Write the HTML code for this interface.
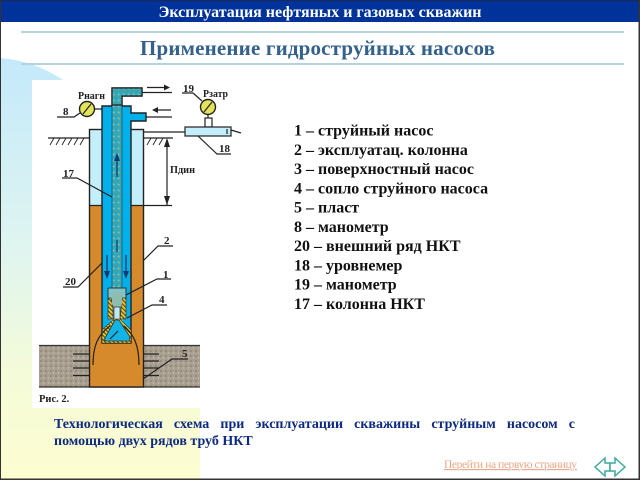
<!DOCTYPE html>
<html><head><meta charset="utf-8"><style>
html,body{margin:0;padding:0;background:#fff}
body{position:relative;width:640px;height:480px;overflow:hidden}
svg{display:block}
text{font-family:"Liberation Serif","Noto Serif CJK SC",serif;font-weight:bold}
.j{position:absolute;left:54px;top:416px;width:521px;font:bold 14px/17px "Liberation Serif","Noto Serif CJK SC",serif;color:#0d2a80}
.j div{white-space:normal}
.j .a{text-align:justify;text-align-last:justify}
</style></head><body>
<svg width="640" height="480" viewBox="0 0 640 480" xmlns="http://www.w3.org/2000/svg">
<defs>
<linearGradient id="bg" x1="0" y1="0" x2="0" y2="1"><stop offset="0" stop-color="#c4e9fb"/><stop offset=".45" stop-color="#dff5f0"/><stop offset=".75" stop-color="#f4fbd8"/><stop offset="1" stop-color="#fdfdd0"/></linearGradient>
<pattern id="soil" width="5" height="5" patternUnits="userSpaceOnUse"><rect width="5" height="5" fill="#a89f90"/><circle cx="1" cy="1" r=".8" fill="#7f776a"/><circle cx="3.5" cy="3" r=".8" fill="#c4bcae"/></pattern>
<pattern id="hatch" width="3" height="3" patternUnits="userSpaceOnUse" patternTransform="rotate(-45)"><rect width="3" height="3" fill="#e6cf3c"/><rect width="1.2" height="3" fill="#5a4a10"/></pattern>
<pattern id="fill" width="5" height="6" patternUnits="userSpaceOnUse"><rect width="5" height="6" fill="#25aec8"/><circle cx="1.5" cy="1.5" r="1.2" fill="#6f9070"/><circle cx="3.7" cy="4.5" r="1" fill="#a9b48a"/></pattern>
</defs>
<rect width="640" height="480" fill="#fff"/>
<path d="M0 58C25 60 45 68 63 80H32V408H200V480H0Z" fill="url(#bg)"/>
<rect x="0" y="0" width="640" height="22" fill="#003399"/>
<rect x="0" y="0" width="640" height="1" fill="#1a2a55"/>
<text x="320" y="17" font-size="16" fill="#fff" text-anchor="middle" textLength="323" lengthAdjust="spacing">Эксплуатация нефтяных и газовых скважин</text>
<rect x="21" y="31" width="603" height="2" fill="#b4d3da"/>
<rect x="21" y="63" width="603" height="2" fill="#b4d3da"/>
<text x="140" y="55" font-size="21" fill="#33618c" textLength="355" lengthAdjust="spacing">Применение гидроструйных насосов</text>

<!-- soil -->
<rect x="39" y="345" width="161" height="42" fill="url(#soil)"/>
<path d="M39 345.500H89M143 345.500H200M39 387H200" stroke="#333" stroke-width="1.200" fill="none"/>
<path d="M73 354H89M73 361H89M73 368H89M73 375.500H89M144 354H159M144 361H159M144 368H159M144 375.500H159" stroke="#222" stroke-width="1.200"/>
<!-- casing -->
<rect x="89.500" y="129.500" width="54" height="76" fill="#c4eefa"/>
<rect x="89.500" y="205.500" width="54" height="181.500" fill="#d68a2c"/>
<rect x="89.500" y="129.500" width="54" height="257.500" fill="none" stroke="#222" stroke-width="1.400"/>
<path d="M89 205.500H172" stroke="#222" stroke-width="1.200"/>
<!-- ground -->
<path d="M48 138H89M143 138H173" stroke="#222" stroke-width="1.200"/>
<path d="M50 145l4-7M56 145l4-7M62 145l4-7M68 145l4-7M74 145l4-7M80 145l4-7M147 145l4-7M153 145l4-7M159 145l4-7" stroke="#222" stroke-width=".9"/>
<!-- tubing -->
<path d="M102 106H112V88H142V96H122V106H131V113H146V121H131V343H102Z" fill="#00b0ea" stroke="#222" stroke-width="1.400"/>
<rect x="112" y="88" width="10" height="200" fill="url(#fill)" stroke="#234" stroke-width=".6"/>
<path d="M112 88H142V96H122V105H112Z" fill="url(#fill)" stroke="#222" stroke-width="1.200"/>
<!-- pump -->
<path d="M108 289H126V318L117 326L108 318Z" fill="#5dc8d8"/>
<path d="M108 288H126V300L122 319H119L122 300V292H112V300L114 319H111L108 300Z" fill="#7fc4c8"/>
<path d="M108 298V319L113 319V307L111 298ZM126 298V319H120L122 298Z" fill="url(#hatch)" stroke="#333" stroke-width=".7"/>
<path d="M108 288H126V300M108 288V300" fill="none" stroke="#333" stroke-width="1"/>
<path d="M112 292H122V304L120 307H114L112 304Z" fill="#8fbcb0"/>
<path d="M114 307H120V320H114Z" fill="#bfe8f0" stroke="#333" stroke-width=".7"/>
<path d="M102 330L114 319H120L131 330V343H102Z" fill="url(#hatch)" stroke="#333" stroke-width=".6"/>
<path d="M104 340L115 320H119L130 337L129 341H106Z" fill="#12b4e6" stroke="#333" stroke-width=".8"/>
<path d="M93 365C93 345 98 335 110 326M139 365C139 345 134 335 124 326" fill="none" stroke="#222" stroke-width="1.200"/>
<!-- flow arrows -->
<path d="M117 177V157" stroke="#123a70" stroke-width="1.300"/><path d="M117 153l-3 8h6z" fill="#123a70"/>
<path d="M117 240V252" stroke="#123a70" stroke-width="1.200"/>
<path d="M107 255V273M126 255V273" stroke="#123a70" stroke-width="1.300"/><path d="M107 279l-3-8h6zM126 279l-3-8h6z" fill="#123a70"/>
<path d="M147 87.500H168M142 92.500H172M154 110H171M146 117H172" stroke="#222" stroke-width="1.200"/>
<path d="M170 87.500l-6-3v6zM152 110l6-3v6z" fill="#222"/>
<!-- gauges -->
<circle cx="87" cy="109" r="7.500" fill="#e5e35a" stroke="#222" stroke-width="1.400"/><path d="M83 114L91 104" stroke="#222" stroke-width="1.200"/>
<path d="M95 109H102M80 113L74 117H57" stroke="#222" stroke-width="1.200" fill="none"/>
<circle cx="208" cy="107" r="7.500" fill="#e5e35a" stroke="#222" stroke-width="1.400"/><path d="M204 112L212 102" stroke="#222" stroke-width="1.200"/>
<path d="M202 101L193 93H182" stroke="#222" stroke-width="1.200" fill="none"/>
<rect x="205" y="118" width="7" height="9" fill="#fff" stroke="#222" stroke-width="1.200"/><path d="M208 115V118" stroke="#222" stroke-width="1.200"/>
<rect x="185" y="127" width="46" height="9" fill="#c4eefa" stroke="#222" stroke-width="1.200"/>
<path d="M143 132H185M227 129V134M231 130L241 133M198 136L217 154H231" stroke="#222" stroke-width="1.200" fill="none"/>
<!-- dimension -->
<path d="M167 140V205" stroke="#222" stroke-width="1.200"/><path d="M167 138l-3 9h6zM167 205l-3-9h6z" fill="#222"/>
<!-- leaders -->
<path d="M62 178H77L112 197" stroke="#222" stroke-width="1.200" fill="none"/>
<path d="M63 287H78L102 263M143 261L158 246H173M126 295L157 279H171M127 318L152 305H167M143 379L172 359H188M118 331L110 339" stroke="#222" stroke-width="1.200" fill="none"/>
<g fill="#222" font-size="11">
<text x="63" y="115">8</text>
<text x="183" y="92">19</text>
<text x="219" y="152">18</text>
<text x="63" y="177">17</text>
<text x="65" y="285">20</text>
<text x="164" y="244">2</text>
<text x="163" y="278">1</text>
<text x="159" y="303">4</text>
<text x="182" y="357">5</text>
<text x="78" y="99" textLength="27" lengthAdjust="spacingAndGlyphs">Рнагн</text>
<text x="203" y="97" textLength="25" lengthAdjust="spacingAndGlyphs">Рзатр</text>
<text x="170" y="173" textLength="25" lengthAdjust="spacingAndGlyphs">Пдин</text>
<text x="39" y="402" font-size="10.500">Рис. 2.</text>
</g>
<g fill="#111" font-size="16">
<text x="294" y="135.700">1 – струйный насос</text>
<text x="294" y="155">2 – эксплуатац. колонна</text>
<text x="294" y="174.200">3 – поверхностный насос</text>
<text x="294" y="193.500">4 – сопло струйного насоса</text>
<text x="294" y="212.700">5 – пласт</text>
<text x="294" y="232">8 – манометр</text>
<text x="294" y="251.200">20 – внешний ряд НКТ</text>
<text x="294" y="270.500">18 – уровнемер</text>
<text x="294" y="289.700">19 – манометр</text>
<text x="294" y="309">17 – колонна НКТ</text>
</g>
<text x="444" y="468" font-size="11.500" fill="#e9a78a" style="font-weight:normal" text-decoration="underline" textLength="133" lengthAdjust="spacing">Перейти на первую страницу</text>
<path d="M595 467L605 458V463H610V471H605V476Z" fill="#fff" stroke="#3fa99c" stroke-width="1.500"/>
<path d="M625 467L615 458V463H610V471H615V476Z" fill="#fff" stroke="#3fa99c" stroke-width="1.500"/>
<rect x="0" y="0" width="1" height="480" fill="#333"/>
<rect x="638.500" y="0" width="1.500" height="480" fill="#333"/>
<rect x="0" y="478.500" width="640" height="1.500" fill="#333"/>
</svg>
<div class="j"><div class="a">Технологическая схема при эксплуатации скважины струйным насосом с</div><div>помощью двух рядов труб НКТ</div></div>
</body></html>
